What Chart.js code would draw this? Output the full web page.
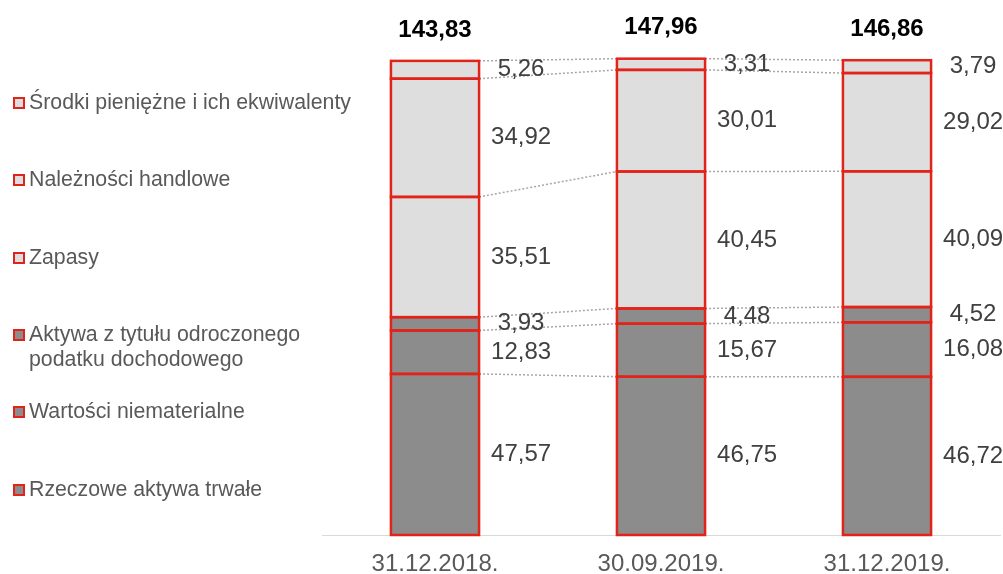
<!DOCTYPE html>
<html lang="pl">
<head>
<meta charset="utf-8">
<title>Struktura aktywów</title>
<script src="https://cdn.jsdelivr.net/npm/chart.js@4/dist/chart.umd.min.js"></script>
<style>
  html, body { margin: 0; padding: 0; background: #fff; }
  #wrap { width: 1003px; height: 574px; position: relative; }
</style>
</head>
<body>
<div id="wrap"><canvas id="aktywa"></canvas></div>
<script>
const categories = ["31.12.2018.", "30.09.2019.", "31.12.2019."];

// from the bottom of the bar upwards
const rzeczowe = [47.57, 46.75, 46.72];
const niematerialne = [12.83, 15.67, 16.08];
const podatek = [3.93, 4.48, 4.52];
const zapasy = [35.51, 40.45, 40.09];
const naleznosci = [34.92, 30.01, 29.02];
const srodki = [5.26, 3.31, 3.79];

const totals = [143.83, 147.96, 146.86];

const seriesNames = [
    "Rzeczowe aktywa trwałe",
    "Wartości niematerialne",
    ["Aktywa z tytułu odroczonego", "podatku dochodowego"],
    "Zapasy",
    "Należności handlowe",
    "Środki pieniężne i ich ekwiwalenty"
];

const RED = "#e2231a";
const DARK = "#8c8c8c";
const LIGHT = "#dedede";
const FONT = "'Liberation Sans', Arial, sans-serif";

const fmt = v => v.toFixed(2).replace(".", ",");

const seriesValues = [rzeczowe, niematerialne, podatek, zapasy, naleznosci, srodki];
const seriesFills = [DARK, DARK, DARK, LIGHT, LIGHT, LIGHT];

const datasets = seriesValues.map((vals, i) => ({
    label: Array.isArray(seriesNames[i]) ? seriesNames[i].join(" ") : seriesNames[i],
    data: vals,
    backgroundColor: seriesFills[i],
    borderWidth: 0,
    categoryPercentage: 1,
    barPercentage: 0.39
}));

// dotted lines joining the segment edges of neighbouring bars
const connectors = {
    id: "connectors",
    beforeDatasetsDraw(chart) {
        const ctx = chart.ctx;
        ctx.save();
        ctx.strokeStyle = "#a6a6a6";
        ctx.lineWidth = 1.5;
        ctx.setLineDash([2, 2]);
        chart.data.datasets.forEach((ds, d) => {
            const bars = chart.getDatasetMeta(d).data;
            for (let i = 0; i < bars.length - 1; i++) {
                const a = bars[i].getProps(["x", "y", "width"], true);
                const b = bars[i + 1].getProps(["x", "y", "width"], true);
                ctx.beginPath();
                ctx.moveTo(a.x + a.width / 2, a.y);
                ctx.lineTo(b.x - b.width / 2, b.y);
                ctx.stroke();
            }
        });
        ctx.restore();
    }
};

// red outline round every segment, values beside, totals on top
const valueLabels = {
    id: "valueLabels",
    afterDatasetsDraw(chart) {
        const ctx = chart.ctx;
        ctx.save();
        ctx.strokeStyle = RED;
        ctx.lineWidth = 2.5;
        chart.data.datasets.forEach((ds, d) => {
            chart.getDatasetMeta(d).data.forEach(bar => {
                const p = bar.getProps(["x", "y", "base", "width"], true);
                ctx.strokeRect(p.x - p.width / 2, p.y, p.width, p.base - p.y);
            });
        });

        ctx.textAlign = "center";
        ctx.textBaseline = "middle";
        ctx.font = "24px " + FONT;
        ctx.fillStyle = "#404040";
        chart.data.datasets.forEach((ds, d) => {
            chart.getDatasetMeta(d).data.forEach((bar, i) => {
                const p = bar.getProps(["x", "y", "base", "width"], true);
                ctx.fillText(fmt(ds.data[i]), p.x + p.width / 2 + 42, (p.y + p.base) / 2);
            });
        });
        const top = chart.getDatasetMeta(chart.data.datasets.length - 1).data;
        ctx.font = "bold 24px " + FONT;
        ctx.fillStyle = "#000";
        top.forEach((bar, i) => {
            const p = bar.getProps(["x", "y"], true);
            ctx.fillText(fmt(totals[i]), p.x, p.y - 31);
        });
        ctx.restore();
    }
};

// legend column on the left, top item = top segment
const sideLegend = {
    id: "sideLegend",
    afterDraw(chart) {
        const ctx = chart.ctx;
        const rows = [103, 180, 258, 335, 412, 490];
        ctx.save();
        ctx.font = "21.3px " + FONT;
        ctx.textBaseline = "middle";
        ctx.textAlign = "left";
        for (let k = 0; k < seriesNames.length; k++) {
            const d = seriesNames.length - 1 - k;
            const y = rows[k];
            ctx.fillStyle = RED;
            ctx.fillRect(13, y - 6, 12, 12);
            ctx.fillStyle = seriesFills[d];
            ctx.fillRect(15, y - 4, 8, 8);
            ctx.fillStyle = "#595959";
            const lines = [].concat(seriesNames[d]);
            lines.forEach((t, j) => ctx.fillText(t, 29, y + j * 25));
        }
        ctx.restore();
    }
};

new Chart("aktywa", {
    type: "bar",
    data: {
        labels: categories,
        datasets: datasets
    },
    options: {
        responsive: true,
        maintainAspectRatio: false,
        animation: false,
        layout: {padding: {left: 322, right: 3, top: 0, bottom: 0}},
        plugins: {
            legend: {display: false},
            tooltip: {enabled: false},
            title: {display: false}
        },
        scales: {
            x: {
                stacked: true,
                grid: {display: false, drawTicks: false},
                border: {display: true, color: "#d9d9d9", width: 1},
                ticks: {
                    color: "#595959",
                    font: {family: FONT, size: 24, lineHeight: 1},
                    padding: 17
                },
                afterFit(scale) {
                    scale.height = 39;
                }
            },
            y: {
                stacked: true,
                display: false,
                min: 0,
                max: 158
            }
        }
    },
    plugins: [connectors, valueLabels, sideLegend]
});
</script>
</body>
</html>
